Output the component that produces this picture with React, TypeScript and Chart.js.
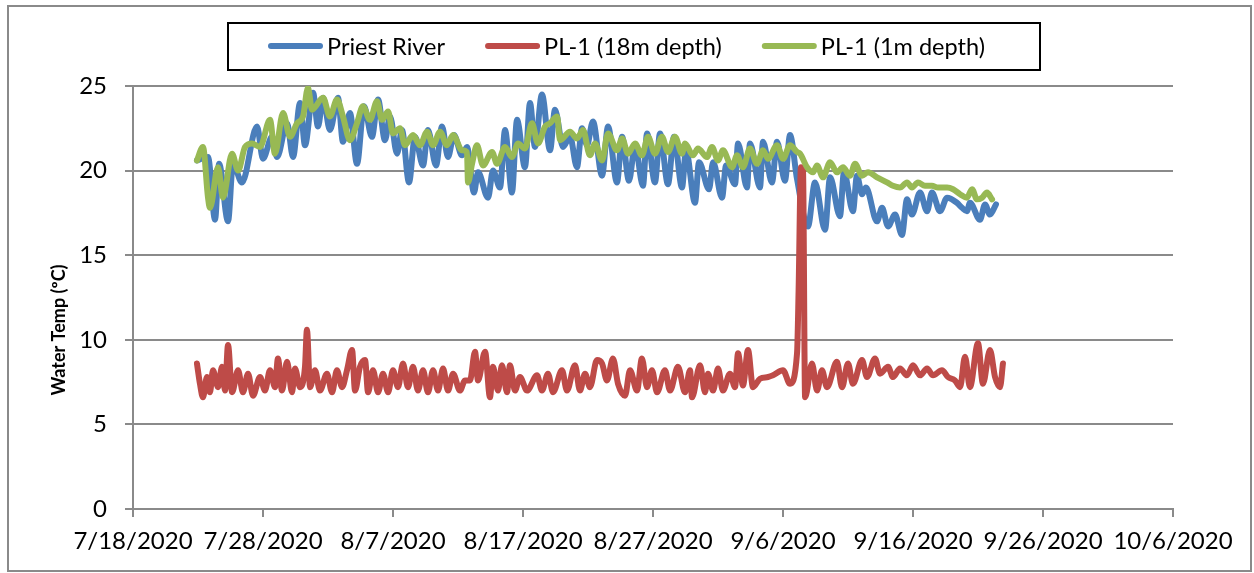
import React, { useEffect, useRef } from "react";
import { Chart, registerables } from "chart.js";

Chart.register(...registerables);

// x values are days elapsed since 7/18/2020
const tickDays = [0, 10, 20, 30, 40, 50, 60, 70, 80];
const tickLabels = ["7/18/2020", "7/28/2020", "8/7/2020", "8/17/2020", "8/27/2020", "9/6/2020", "9/16/2020", "9/26/2020", "10/6/2020"];
const yTicks = [0, 5, 10, 15, 20, 25];

const seriesNames = ["Priest River", "PL-1 (18m depth)", "PL-1 (1m depth)"];
const seriesColors = ["#4A7EBB", "#BE4B48", "#98B954"];

const priestDays = [
  4.92, 5.77, 6.31, 6.62, 7.31, 7.69, 8.38, 9.54, 10.0, 10.69, 11.08, 11.85, 12.31, 12.85, 13.23, 13.85,
  14.23, 14.62, 15.15, 15.77, 16.15, 16.69, 17.23, 17.77, 18.38, 18.85, 19.38, 19.77, 20.31, 20.69, 21.23,
  21.69, 22.31, 22.69, 23.31, 23.77, 24.23, 24.69, 25.31, 25.69, 26.23, 26.54, 27.31, 27.69, 28.23, 28.62,
  29.15, 29.54, 30.15, 30.54, 30.92, 31.46, 32.08, 32.46, 33.08, 33.62, 34.15, 34.54, 34.92, 35.38, 36.08,
  36.54, 37.23, 37.62, 38.15, 38.62, 39.23, 39.54, 40.15, 40.54, 41.15, 41.62, 42.23, 42.54, 43.23, 43.54,
  44.31, 44.62, 45.31, 45.62, 46.31, 46.54, 47.23, 47.46, 48.23, 48.46, 49.15, 49.54, 50.15, 50.54, 51.08,
  51.92, 52.46, 53.23, 53.62, 54.38, 54.69, 55.38, 55.69, 56.08, 56.38, 57.23, 57.62, 58.08, 58.62, 59.15,
  59.54, 59.92, 60.54, 61.08, 61.46, 62.08, 62.62, 63.38, 63.77, 64.15, 64.38, 65.15, 65.54, 65.92, 66.38,
];
const priestTemps = [
  20.6, 20.8, 17.1, 20.4, 17.0, 20.4, 19.3, 22.6, 20.7, 22.0, 20.8, 22.8, 20.8, 24.0, 21.5, 24.6,
  22.6, 24.3, 22.4, 24.3, 21.7, 23.4, 20.4, 23.8, 22.0, 24.2, 21.8, 23.2, 21.0, 22.4, 19.3,
  22.0, 20.3, 22.4, 20.3, 22.6, 20.8, 22.1, 20.9, 21.4, 18.7, 19.9, 18.4, 20.0, 19.0, 22.4,
  18.7, 23.0, 20.2, 24.0, 21.4, 24.5, 21.2, 23.6, 21.4, 22.0, 20.2, 22.5, 21.5, 22.9, 19.7,
  22.6, 19.3, 22.0, 19.4, 21.5, 19.1, 22.2, 19.3, 22.2, 19.2, 22.0, 19.0, 21.2, 18.1, 20.5,
  18.9, 20.5, 18.4, 20.3, 19.2, 21.6, 19.0, 21.6, 19.0, 21.7, 19.3, 21.7, 19.4, 22.1, 19.5,
  16.7, 19.3, 16.5, 19.6, 17.3, 19.9, 17.6, 19.7, 18.6, 19.0, 17.0, 17.8, 16.7, 17.4, 16.2,
  18.3, 17.4, 18.7, 17.6, 18.7, 17.6, 18.4, 18.1, 17.8, 17.6, 18.1, 17.1, 18.0, 17.4, 18.0,
];

const deepDays = [
  4.92, 5.15, 5.38, 5.69, 5.92, 6.15, 6.54, 6.85, 7.08, 7.31, 7.62, 8.08, 8.46, 8.85, 9.23, 9.77, 10.15,
  10.54, 10.92, 11.15, 11.46, 11.85, 12.23, 12.46, 12.85, 13.23, 13.38, 13.62, 14.0, 14.38, 14.92, 15.31,
  15.69, 16.08, 16.46, 16.85, 17.08, 17.46, 17.85, 18.08, 18.46, 18.85, 19.23, 19.62, 20.0, 20.38, 20.77,
  21.15, 21.54, 21.92, 22.31, 22.69, 23.08, 23.46, 23.85, 24.23, 24.62, 25.15, 25.54, 25.92, 26.31, 26.54,
  27.08, 27.46, 27.69, 28.08, 28.38, 28.77, 29.0, 29.38, 29.77, 30.31, 31.08, 31.46, 31.92, 32.31, 33.0,
  33.38, 34.0, 34.38, 34.77, 35.15, 35.69, 36.08, 36.46, 36.92, 37.31, 37.85, 38.23, 38.77, 39.15, 39.54,
  39.92, 40.31, 40.92, 41.31, 41.92, 42.46, 42.85, 43.0, 43.62, 44.0, 44.23, 44.62, 45.0, 45.38, 45.92,
  46.31, 46.54, 46.92, 47.31, 47.69, 48.23, 48.85, 49.23, 50.0, 50.54, 51.08, 51.2, 51.38, 51.54, 51.7, 52.23,
  52.62, 53.0, 53.38, 54.15, 54.54, 55.0, 55.38, 56.08, 56.46, 57.08, 57.46, 58.08, 58.46, 59.0, 59.54,
  60.0, 60.54, 61.08, 61.54, 62.23, 62.69, 63.23, 63.62, 64.0, 64.38, 65.0, 65.38, 65.92, 66.31, 66.69, 66.92,
];
const deepTemps = [
  8.6, 7.4, 6.6, 7.8, 6.9, 8.2, 7.2, 8.4, 7.0, 9.7, 6.9, 8.2, 6.9, 8.0, 6.7, 7.8, 7.0,
  8.2, 7.2, 8.9, 7.0, 8.7, 6.9, 8.3, 7.2, 8.4, 10.6, 7.2, 8.2, 7.0, 8.0, 6.9,
  8.2, 7.2, 8.2, 9.4, 7.0, 8.4, 8.8, 6.9, 8.2, 6.9, 8.0, 6.9, 8.2, 7.2, 8.6,
  7.2, 8.4, 7.0, 8.2, 6.9, 8.2, 7.0, 8.3, 7.0, 8.0, 7.0, 7.6, 7.6, 9.3, 7.6,
  9.3, 6.6, 8.4, 7.0, 8.5, 6.9, 8.5, 7.0, 7.8, 7.0, 7.9, 7.0, 8.0, 6.9, 8.2,
  7.0, 8.5, 7.0, 8.0, 7.2, 8.8, 8.6, 7.6, 8.9, 7.4, 6.7, 8.2, 7.0, 8.9, 7.2,
  8.2, 6.9, 8.2, 7.0, 8.4, 6.9, 8.2, 6.6, 8.5, 6.9, 8.0, 7.0, 8.3, 7.0, 8.0,
  7.2, 9.2, 7.3, 9.4, 7.2, 7.7, 7.8, 7.9, 8.2, 7.4, 9.2, 12.9, 20.2, 20.0, 6.6, 8.6,
  7.0, 8.2, 7.2, 8.7, 7.2, 8.6, 7.4, 8.8, 7.8, 8.9, 8.0, 8.4, 7.8, 8.3, 7.9,
  8.5, 7.9, 8.3, 7.9, 8.2, 7.8, 7.6, 7.2, 9.0, 7.2, 9.8, 7.4, 9.4, 7.8, 7.2, 8.6,
];

const shallowDays = [
  4.92, 5.38, 5.77, 5.92, 6.54, 6.92, 7.62, 8.08, 8.62, 9.15, 9.77, 10.54, 10.92, 11.54, 12.08, 12.62,
  13.08, 13.46, 13.77, 14.62, 15.15, 15.69, 16.15, 16.69, 17.23, 17.69, 18.23, 18.77, 19.15, 19.62, 20.0,
  20.54, 20.92, 21.54, 22.08, 22.62, 23.08, 23.62, 24.15, 24.62, 25.31, 25.69, 25.77, 26.08, 26.46, 26.92,
  27.62, 28.0, 28.62, 29.15, 29.62, 30.15, 30.69, 31.15, 31.69, 32.08, 32.62, 32.85, 33.62, 34.15, 34.62,
  35.15, 35.54, 36.08, 36.54, 37.23, 37.62, 38.08, 38.62, 39.15, 39.62, 40.15, 40.69, 41.15, 41.69, 42.23,
  42.46, 43.08, 43.46, 44.15, 44.54, 45.0, 45.38, 46.08, 46.46, 46.92, 47.46, 48.0, 48.46, 48.85, 49.54,
  50.0, 50.54, 51.08, 51.31, 51.85, 52.31, 52.62, 53.08, 53.62, 54.15, 54.62, 55.15, 55.54, 56.08, 56.54,
  57.23, 58.0, 58.46, 59.0, 59.54, 59.92, 60.38, 60.92, 61.46, 61.92, 62.62, 63.08, 63.62, 64.15, 64.54,
  64.92, 65.31, 65.69, 66.08,
];
const shallowTemps = [
  20.6, 21.4, 18.4, 17.8, 20.2, 18.4, 21.0, 20.0, 21.4, 21.6, 21.4, 23.0, 21.0, 23.4, 22.0, 22.8,
  23.2, 24.9, 23.6, 24.3, 23.2, 24.2, 23.2, 21.8, 22.8, 23.8, 23.0, 24.1, 23.0, 23.5, 22.2,
  22.5, 21.5, 22.1, 21.5, 22.3, 21.5, 22.3, 21.5, 22.1, 21.2, 21.1, 19.3, 20.4, 21.5, 20.3,
  21.1, 20.4, 21.4, 20.8, 21.6, 21.3, 22.8, 21.6, 22.6, 22.8, 23.2, 21.8, 22.3, 21.9, 22.4,
  20.9, 21.6, 20.6, 22.2, 21.2, 21.9, 21.0, 21.6, 20.9, 22.0, 21.0, 22.0, 21.1, 22.0, 21.0,
  21.6, 20.9, 21.3, 20.8, 21.4, 20.6, 21.2, 20.2, 20.9, 20.2, 21.3, 20.4, 21.2, 20.7, 21.5,
  20.7, 21.5, 21.1, 21.0, 20.2, 19.9, 20.3, 19.6, 20.5, 19.9, 20.2, 19.7, 20.4, 19.7, 19.9,
  19.6, 19.3, 19.1, 19.0, 19.3, 19.0, 19.3, 19.1, 19.1, 19.0, 19.0, 18.9, 18.6, 18.4, 18.9,
  18.3, 18.4, 18.7, 18.3,
];

const FONT = "Lato, 'Liberation Sans', sans-serif";
const LINE_WIDTH = 6;

const toPoints = (days: number[], temps: number[]) => days.map((d, i) => ({ x: d, y: temps[i] }));

// Frame, boxed legend and rotated y-axis caption, drawn after the chart
const decorations = {
  id: "decorations",
  afterDraw(chart: any) {
    const ctx = chart.ctx as CanvasRenderingContext2D;
    ctx.save();

    // outer frame
    ctx.strokeStyle = "#8a8a8a";
    ctx.lineWidth = 2;
    ctx.strokeRect(8, 6, chart.width - 11, chart.height - 8);

    // legend box
    ctx.strokeStyle = "#000";
    ctx.lineWidth = 2;
    ctx.strokeRect(228, 23, 812, 47);
    ctx.font = `23.5px ${FONT}`;
    ctx.textBaseline = "middle";
    ctx.textAlign = "left";
    ctx.fillStyle = "#000";
    let x = 268;
    const y = 46;
    seriesNames.forEach((name, i) => {
      ctx.strokeStyle = seriesColors[i];
      ctx.lineWidth = LINE_WIDTH;
      ctx.lineCap = "round";
      ctx.beginPath();
      ctx.moveTo(x + 3, y);
      ctx.lineTo(x + 52, y);
      ctx.stroke();
      ctx.fillText(name, x + 59, y + 1);
      x += 59 + ctx.measureText(name).width + 40;
    });

    // y-axis caption
    ctx.translate(59, 330);
    ctx.rotate(-Math.PI / 2);
    ctx.font = `bold 18px ${FONT}`;
    ctx.textAlign = "center";
    ctx.textBaseline = "middle";
    ctx.fillStyle = "#000";
    ctx.fillText("Water Temp (ºC)", 0, 0);
    ctx.restore();
  },
};

export default function App() {
  const canvasRef = useRef<HTMLCanvasElement | null>(null);

  useEffect(() => {
    if (!canvasRef.current) return;
    const gridColor = "#8a8a8a";
    const common = {
      pointRadius: 0,
      borderWidth: LINE_WIDTH,
      borderCapStyle: "round" as const,
      borderJoinStyle: "round" as const,
      cubicInterpolationMode: "monotone" as const,
      fill: false,
    };
    const chart = new Chart(canvasRef.current, {
      type: "line",
      data: {
        datasets: [
          { ...common, label: seriesNames[0], data: toPoints(priestDays, priestTemps), borderColor: seriesColors[0], order: 2 },
          { ...common, label: seriesNames[1], data: toPoints(deepDays, deepTemps), borderColor: seriesColors[1], order: 1 },
          { ...common, label: seriesNames[2], data: toPoints(shallowDays, shallowTemps), borderColor: seriesColors[2], order: 0 },
        ],
      },
      options: {
        responsive: false,
        animation: false,
        devicePixelRatio: 1,
        layout: { padding: { top: 86, right: 81, left: 0, bottom: 0 } },
        plugins: { legend: { display: false }, tooltip: { enabled: false } },
        scales: {
          x: {
            type: "linear",
            min: tickDays[0],
            max: tickDays[tickDays.length - 1],
            afterFit: (s: any) => {
              s.height = 64;
            },
            afterBuildTicks: (s: any) => {
              s.ticks = tickDays.map((v) => ({ value: v }));
            },
            ticks: {
              autoSkip: false,
              maxRotation: 0,
              color: "#000",
              font: { family: FONT, size: 24 },
              padding: 10,
              callback: (_v: any, i: number) => tickLabels[i],
            },
            grid: { drawOnChartArea: false, drawTicks: true, tickLength: 8, color: gridColor, lineWidth: 2 },
            border: { color: gridColor, width: 2 },
          },
          y: {
            min: yTicks[0],
            max: yTicks[yTicks.length - 1],
            afterFit: (s: any) => {
              s.width = 133;
            },
            afterBuildTicks: (s: any) => {
              s.ticks = yTicks.map((v) => ({ value: v }));
            },
            ticks: {
              color: "#000",
              font: { family: FONT, size: 24 },
              padding: 18,
            },
            grid: { color: gridColor, lineWidth: 2, tickLength: 8 },
            border: { color: gridColor, width: 2 },
          },
        },
      },
      plugins: [decorations],
    });
    return () => chart.destroy();
  }, []);

  return (
    <div style={{ position: "absolute", left: 0, top: 0, width: 1254, height: 573, background: "#fff" }}>
      <canvas ref={canvasRef} width={1254} height={573} style={{ display: "block" }} />
    </div>
  );
}
